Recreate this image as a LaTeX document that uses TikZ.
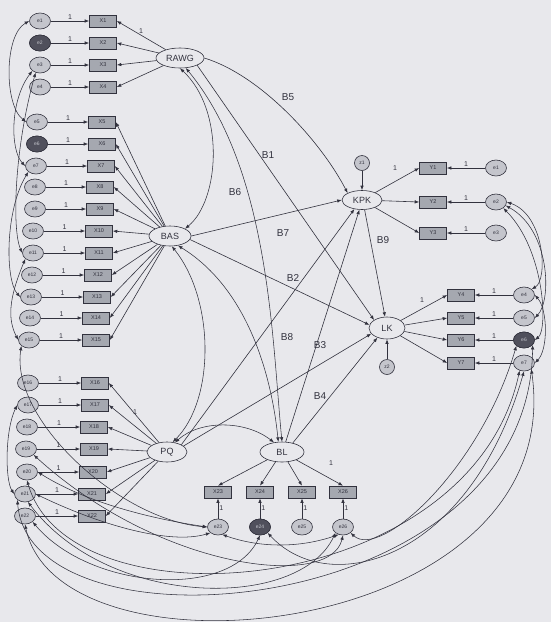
\documentclass[tikz,border=0pt]{standalone}
\usepackage{fontspec}
\setmainfont{Liberation Sans}
\usetikzlibrary{shapes.geometric,arrows.meta,calc}
\definecolor{bgc}{RGB}{232,232,236}
\definecolor{boxc}{RGB}{165,168,176}
\definecolor{errf}{RGB}{196,197,204}
\definecolor{errd}{RGB}{80,80,92}
\definecolor{ink}{RGB}{50,50,62}
\begin{document}
\begin{tikzpicture}[x=1pt,y=-1pt,
  obsbox/.style={draw=ink,line width=0.6pt,fill=boxc,rectangle,minimum width=27pt,minimum height=12pt,inner sep=0pt,font=\fontsize{5.5}{6}\selectfont,text=ink},
  errn/.style={draw=ink,line width=0.6pt,fill=errf,ellipse,minimum width=21pt,minimum height=16pt,inner sep=0pt,font=\fontsize{5}{6}\selectfont,text=ink},
  darkerr/.style={fill=errd,text=errf},
  latn/.style={draw=ink,line width=0.6pt,fill=bgc,ellipse,minimum width=42pt,minimum height=20pt,inner sep=0pt,font=\fontsize{9}{10}\selectfont,text=ink},
  arr/.style={draw=ink,line width=0.6pt,-{Latex[length=4.5pt,width=3.5pt]}},
  dbl/.style={draw=ink,line width=0.55pt,{Latex[length=4.5pt,width=3.5pt]}-{Latex[length=4.5pt,width=3.5pt]}},
  one/.style={font=\fontsize{7}{8}\selectfont,text=ink,inner sep=1pt},
  blab/.style={font=\fontsize{10}{12}\selectfont,text=ink}]
\fill[bgc] (0,0) rectangle (551,622);
\useasboundingbox (0,0) rectangle (551,622);

% latent variables
\node[latn,minimum width=48pt] (RAWG) at (180,58) {RAWG};
\node[latn] (BAS) at (170,236) {BAS};
\node[latn,minimum width=40pt] (PQ) at (167,452) {PQ};
\node[latn,minimum width=44pt] (BL) at (282,452) {BL};
\node[latn,minimum width=40pt,minimum height=19pt] (KPK) at (362,200) {KPK};
\node[latn,minimum width=36pt,minimum height=22pt] (LK) at (387,328) {LK};
\node[errn,minimum width=15pt,minimum height=15pt] (z1) at (362,163) {z1};
\node[errn,minimum width=15pt,minimum height=15pt] (z2) at (387,367) {z2};

% left indicators
\foreach \i/\ex/\bx/\yy in {1/40/103/21,2/40/103/43,3/40/103/65,4/40/103/87,
 5/37/102/122,6/37/102/144,7/36/101/166,8/35/100/187,9/35/100/209,10/33/99/231,11/33/99/253,12/32/98/275,13/31/97/297,14/30/96/318,15/29/96/340,
 16/28/95/383,17/28/95/405,18/27/94/427,19/26/94/449,20/27/93/472,21/25/92/494,22/25/92/516}{
  \node[errn] (e\i) at (\ex,\yy) {e\i};
  \node[obsbox] (x\i) at (\bx,\yy) {X\i};
  \draw[arr] (e\i) -- node[one,above]{1} (x\i);
}
\node[errn,darkerr] at (e2) {e2};
\node[errn,darkerr] at (e6) {e6};
\foreach \i in {1,...,4} \draw[arr] (RAWG) -- (x\i.east);
\foreach \i in {5,...,15} \draw[arr] (BAS) -- (x\i.east);
\foreach \i in {16,...,22} \draw[arr] (PQ) -- (x\i.east);
\node[one] at (141,31) {1};
\node[one] at (135,412) {1};

% BL indicators
\foreach \i/\xx in {23/218,24/260,25/302,26/343}{
  \node[obsbox] (x\i) at (\xx,492) {X\i};
  \node[errn] (e\i) at (\xx,527) {e\i};
  \draw[arr] (e\i) -- node[one,right]{1} (x\i);
  \draw[arr] (BL) -- (x\i.north);
}
\node[errn,darkerr] at (e24) {e24};
\node[one] at (331,463) {1};

% KPK indicators
\foreach \i/\yy in {1/168,2/202,3/233}{
  \node[obsbox] (y\i) at (433,\yy) {Y\i};
  \node[errn] (r\i) at (496,\yy) {e\i};
  \draw[arr] (r\i) -- node[one,above]{1} (y\i);
  \draw[arr] (KPK) -- (y\i.west);
}
\node[one] at (395,168) {1};

% LK indicators
\foreach \i/\yy in {4/295,5/318,6/340,7/363}{
  \node[obsbox] (y\i) at (461,\yy) {Y\i};
  \node[errn] (r\i) at (524,\yy) {e\i};
  \draw[arr] (r\i) -- node[one,above]{1} (y\i);
  \draw[arr] (LK) -- (y\i.west);
}
\node[errn,darkerr] at (r6) {e6};
\node[one] at (422,300) {1};

% disturbances
\draw[arr] (z1) -- (KPK);
\draw[arr] (z2) -- (LK);

% structural paths
\draw[arr] (RAWG.east) .. controls (260,75) and (320,140) .. (KPK.north west);
\draw[arr] (RAWG.south east) -- (LK.north west);
\draw[arr] (BAS.east) -- (KPK.west);
\draw[arr] (BAS.-10) -- (LK.170);
\draw[arr] (KPK.-75) -- (LK.100);
\draw[arr] (PQ.north east) -- (KPK.-130);
\draw[arr] (BL.70) -- (KPK.-105);
\draw[arr] (PQ.20) -- (LK.-160);
\draw[arr] (BL.40) -- (LK.-135);

% covariances among exogenous
\draw[dbl] (RAWG.south) .. controls (225,110) and (220,200) .. (BAS.north east);
\draw[dbl] (RAWG.-60) .. controls (270,170) and (272,340) .. (BL.north);
\draw[dbl] (BAS.-80) .. controls (215,300) and (215,400) .. (PQ.60);
\draw[dbl] (BAS.-50) .. controls (250,290) and (272,380) .. (BL.110);
\draw[dbl] (PQ.50) .. controls (200,420) and (245,420) .. (BL.130);

% path labels
\node[blab] at (288,97) {B5};
\node[blab] at (268,155) {B1};
\node[blab] at (235,192) {B6};
\node[blab] at (283,233) {B7};
\node[blab] at (383,240) {B9};
\node[blab] at (293,278) {B2};
\node[blab] at (287,337) {B8};
\node[blab] at (320,345) {B3};
\node[blab] at (320,396) {B4};

% left error covariances
\draw[dbl] (e1.west) .. controls (4,35) and (4,105) .. (e5.west);
\draw[dbl] (e3.south west) .. controls (10,100) and (10,150) .. (e7.west);
\draw[dbl] (e3.-120) .. controls (14,150) and (12,230) .. (e11.west);
\draw[dbl] (e7.south west) .. controls (5,210) and (5,280) .. (e13.west);
\draw[dbl] (e11.south west) .. controls (8,300) and (8,320) .. (e15.west);
\draw[dbl] (e15.south west) .. controls (10,420) and (120,520) .. (e23.west);
\draw[dbl] (e17.west) .. controls (5,430) and (5,480) .. (e21.west);

% right error covariances
\draw[dbl] (r2.east) .. controls (545,215) and (548,280) .. (r4.north east);
\draw[dbl] (r2.-20) .. controls (550,230) and (552,300) .. (r5.east);
\draw[dbl] (r2.-40) .. controls (545,250) and (548,330) .. (r6.east);
\draw[dbl] (r4.east) .. controls (548,310) and (548,350) .. (r7.east);

% bottom error covariances
\draw[dbl] (e22.south) .. controls (60,690) and (570,640) .. (r7.-40);
\draw[dbl] (e21.south west) .. controls (30,660) and (530,620) .. (r6.-30);
\draw[dbl] (e20.south) .. controls (70,630) and (470,600) .. (r7.-120);
\draw[dbl] (e21.east) .. controls (100,525) and (170,545) .. (e23.south west);
\draw[dbl] (e20.east) .. controls (90,505) and (160,520) .. (e23.west);
\draw[dbl] (e24.south) .. controls (230,600) and (90,590) .. (e22.south east);
\draw[dbl] (e24.south east) .. controls (330,600) and (470,560) .. (r7.south);
\draw[dbl] (e26.south west) .. controls (300,610) and (110,610) .. (e21.-70);
\draw[dbl] (e23.-60) .. controls (260,548) and (300,548) .. (e26.-120);
\draw[dbl] (e26.south east) .. controls (380,560) and (480,470) .. (r6.south west);
\draw[dbl] (e19.south east) .. controls (160,570) and (330,590) .. (e26.south);
\end{tikzpicture}
\end{document}
